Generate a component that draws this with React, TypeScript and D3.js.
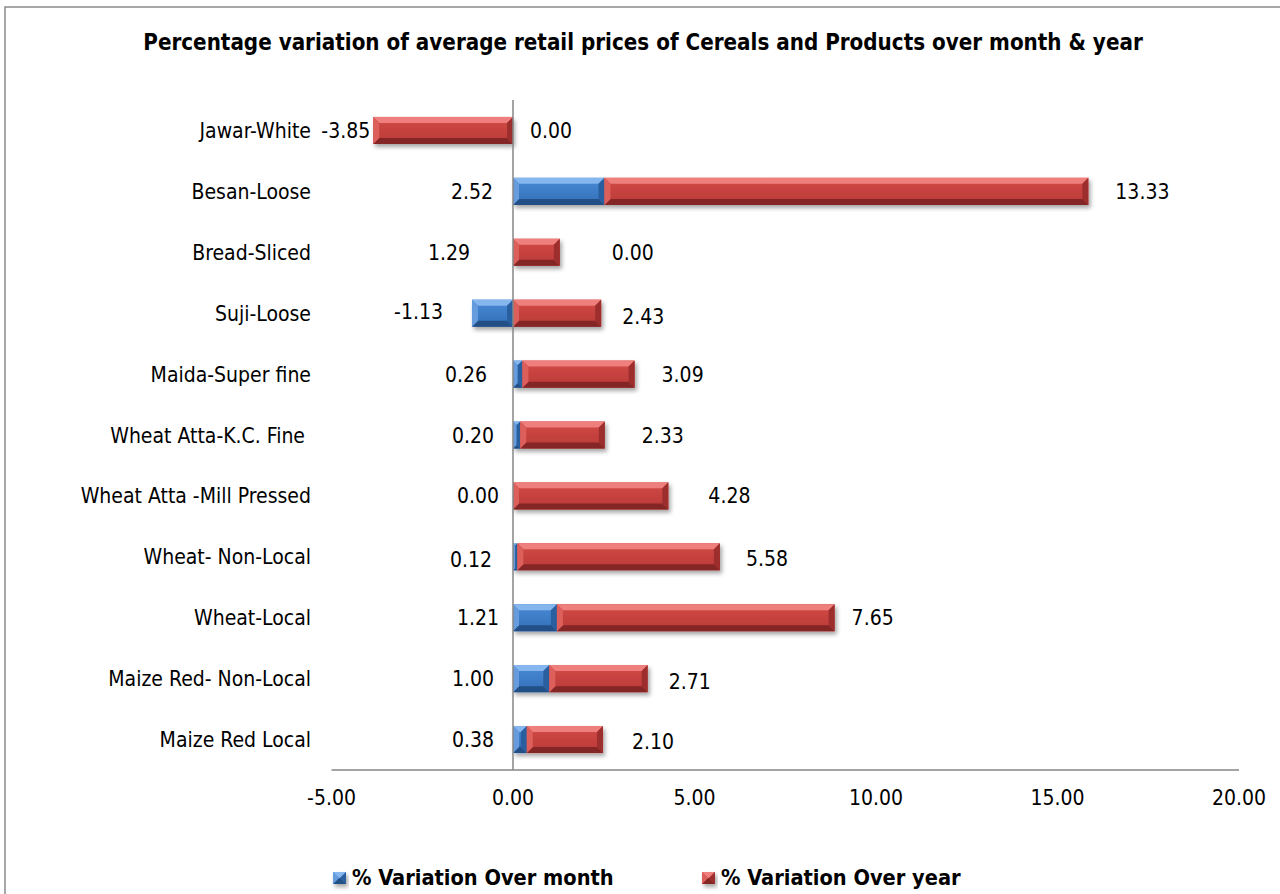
import React from "react";
import * as d3 from "d3";

const categories = [
  "Jawar-White",
  "Besan-Loose",
  "Bread-Sliced",
  "Suji-Loose",
  "Maida-Super fine",
  "Wheat Atta-K.C. Fine ",
  "Wheat Atta -Mill Pressed",
  "Wheat- Non-Local",
  "Wheat-Local",
  "Maize Red- Non-Local",
  "Maize Red Local",
];
const overMonth = [0.0, 2.52, 0.0, -1.13, 0.26, 0.2, 0.0, 0.12, 1.21, 1.0, 0.38];
const overYear = [-3.85, 13.33, 1.29, 2.43, 3.09, 2.33, 4.28, 5.58, 7.65, 2.71, 2.1];
const seriesNames = ["% Variation Over month", "% Variation Over year"];
const xTicks = [-5, 0, 5, 10, 15, 20];
const swappedLabelRows = ["Jawar-White", "Bread-Sliced"];
const titleText =
  "Percentage variation of average retail prices of Cereals and Products over month & year";

// layout-only nudges (pixels) for the hand-placed data labels
const leftNudge = [-3, -20, -43, -29, -26, -19, -14, -21, -14, -19, -19];
const rightNudge = [17, 27, 52, 21, 27, 37, 40, 26, 17, 21, 29];
const rightDy = [0, 0, 0, 3, 0, 0, 0, 2, 0, 3, 2];
const leftDy = [0, 0, 0, -2, 0, 0, 0, 3, 0, 0, 0];

const W = 1280;
const H = 894;
const FONT = "'DejaVu Sans Condensed', 'DejaVu Sans', sans-serif";
const FS = 21;

const fmt = (v: number) => d3.format(".2f")(v).replace("\u2212", "-");

const palettes = [
  { top: "#86b6ee", left: "#669cde", c1: "#4a8ad6", c2: "#336fb8", right: "#2c5f9f", bottom: "#234f86" },
  { top: "#ee7f7c", left: "#dc5e5b", c1: "#d24a47", c2: "#b93a37", right: "#9c2f2d", bottom: "#842725" },
];

function BevelBar({ x0, x1, y, h, p, gid }: any) {
  const w = x1 - x0;
  if (w <= 0.01) return null;
  const b = Math.min(6, w / 2, h / 2);
  const xa = x0, xb = x1, ya = y, yb = y + h;
  const pts = (a: number[][]) => a.map((q) => q.join(",")).join(" ");
  return (
    <g>
      <rect x={xa} y={ya} width={w} height={h} fill={`url(#${gid})`} />
      <polygon points={pts([[xa, ya], [xb, ya], [xb - b, ya + b], [xa + b, ya + b]])} fill={p.top} />
      <polygon points={pts([[xa, yb], [xb, yb], [xb - b, yb - b], [xa + b, yb - b]])} fill={p.bottom} />
      <polygon points={pts([[xa, ya], [xa + b, ya + b], [xa + b, yb - b], [xa, yb]])} fill={p.left} />
      <polygon points={pts([[xb, ya], [xb - b, ya + b], [xb - b, yb - b], [xb, yb]])} fill={p.right} />
    </g>
  );
}

export default function App() {
  const x = d3.scaleLinear().domain([-5, 20]).range([331.5, 1239]);
  const y = d3
    .scaleBand<string>()
    .domain(categories)
    .range([100, 770])
    .paddingInner(0.555)
    .paddingOuter(0.2775);

  const rows = categories.map((c, i) => ({ cat: c, month: overMonth[i], year: overYear[i] }));
  const stack = d3
    .stack<any>()
    .keys(["month", "year"])
    .offset(d3.stackOffsetDiverging);
  const stacked = stack(rows);

  const bh = y.bandwidth();

  return (
    <svg
      width={W}
      height={H}
      style={{ position: "absolute", left: 0, top: 0, background: "#fff" }}
      fontFamily={FONT}
    >
      <defs>
        {palettes.map((p, i) => (
          <linearGradient key={i} id={`g${i}`} x1="0" y1="0" x2="0" y2="1">
            <stop offset="0" stopColor={p.c1} />
            <stop offset="1" stopColor={p.c2} />
          </linearGradient>
        ))}
        <filter id="shadow" x="-10%" y="-30%" width="130%" height="190%">
          <feDropShadow dx="2" dy="3" stdDeviation="2" floodColor="#000" floodOpacity="0.35" />
        </filter>
      </defs>
      <rect x={0} y={0} width={W} height={H} fill="#fff" />
      <rect x={5} y={7} width={W + 20} height={H + 20} fill="none" stroke="#8a8a8a" strokeWidth={1.5} />

      <text
        x={643}
        y={50}
        textAnchor="middle"
        fontWeight="bold"
        fontSize={22.2}
        style={{ fontStretch: "condensed" }}
        fill="#000"
      >
        {titleText}
      </text>

      {/* bars */}
      <g filter="url(#shadow)">
        {stacked.map((s, si) =>
          s.map((d, i) => (
            <BevelBar
              key={`${si}-${i}`}
              x0={x(Math.min(d[0], d[1]))}
              x1={x(Math.max(d[0], d[1]))}
              y={y(categories[i])!}
              h={bh}
              p={palettes[si]}
              gid={`g${si}`}
            />
          ))
        )}
      </g>

      {/* axes */}
      <line x1={x(0)} x2={x(0)} y1={100} y2={770} stroke="#868686" strokeWidth={1.5} />
      <line x1={x(-5)} x2={x(20)} y1={770} y2={770} stroke="#868686" strokeWidth={1.5} />
      {xTicks.map((t) => (
        <text
          key={t}
          x={x(t)}
          y={805}
          textAnchor="middle"
          fontSize={FS}
          style={{ fontStretch: "condensed" }}
        >
          {fmt(t)}
        </text>
      ))}

      {/* category labels */}
      {categories.map((c) => (
        <text
          key={c}
          x={311}
          y={y(c)! + bh / 2}
          dy="0.36em"
          textAnchor="end"
          fontSize={FS}
          style={{ fontStretch: "condensed", whiteSpace: "pre" }}
        >
          {c}
        </text>
      ))}

      {/* data labels */}
      {rows.map((r, i) => {
        const swap = swappedLabelRows.includes(r.cat);
        const leftVal = swap ? r.year : r.month;
        const rightVal = swap ? r.month : r.year;
        const lo = Math.min(0, stacked[0][i][0], stacked[1][i][0]);
        const hi = Math.max(0, stacked[0][i][1], stacked[1][i][1]);
        const cy = y(r.cat)! + bh / 2;
        return (
          <g key={r.cat} fontSize={FS} style={{ fontStretch: "condensed" }}>
            <text x={x(lo) + leftNudge[i]} y={cy + leftDy[i]} dy="0.36em" textAnchor="end">
              {fmt(leftVal)}
            </text>
            <text x={x(hi) + rightNudge[i]} y={cy + rightDy[i]} dy="0.36em" textAnchor="start">
              {fmt(rightVal)}
            </text>
          </g>
        );
      })}

      {/* legend */}
      {seriesNames.map((n, i) => {
        const lx = i === 0 ? 333 : 702;
        return (
          <g key={n}>
            <g filter="url(#shadow)">
              <BevelBar x0={lx} x1={lx + 13} y={872} h={12} p={palettes[i]} gid={`g${i}`} />
            </g>
            <text
              x={lx + 19}
              y={885}
              fontWeight="bold"
              fontSize={21.6}
              style={{ fontStretch: "condensed" }}
            >
              {n}
            </text>
          </g>
        );
      })}
    </svg>
  );
}
